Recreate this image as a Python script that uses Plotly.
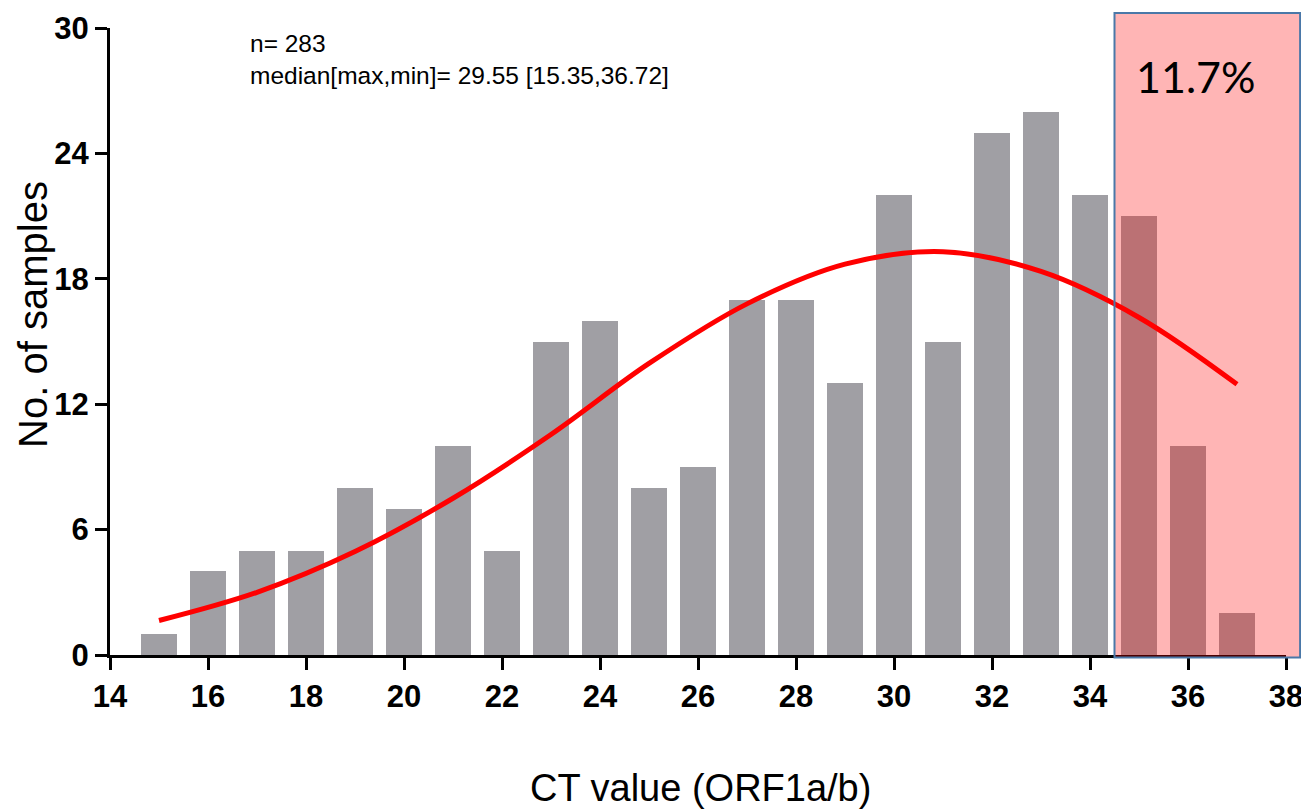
import plotly.graph_objects as go

ct_bins = [15, 16, 17, 18, 19, 20, 21, 22, 23, 24, 25, 26, 27, 28, 29, 30, 31, 32, 33, 34, 35, 36, 37]
counts = [1, 4, 5, 5, 8, 7, 10, 5, 15, 16, 8, 9, 17, 17, 13, 22, 15, 25, 26, 22, 21, 10, 2]

fit_x = [15, 17, 19, 21, 23, 25, 27, 29, 31, 33, 35, 37]
fit_y = [1.65, 3.0, 4.95, 7.5, 10.55, 13.95, 16.8, 18.7, 19.3, 18.35, 16.15, 12.95]

x_ticks = [14, 16, 18, 20, 22, 24, 26, 28, 30, 32, 34, 36, 38]
y_ticks = [0, 6, 12, 18, 24, 30]

fig = go.Figure()
fig.add_trace(go.Bar(x=ct_bins, y=counts, width=0.73, marker=dict(color="#a09fa4", line=dict(width=0)),
                     showlegend=False))
fig.add_trace(go.Scatter(x=fit_x, y=fit_y, mode="lines",
                         line=dict(color="#ff0000", width=5, shape="spline", smoothing=1.0),
                         showlegend=False))

x_lo, x_hi = 14, 38
fig.add_shape(type="rect", xref="paper", yref="paper",
              x0=(34.5 - x_lo) / (x_hi - x_lo), x1=1.012, y0=-0.004, y1=1.024,
              fillcolor="rgba(255,0,0,0.29)", line=dict(color="#4a78a8", width=2), layer="above")

fig.add_annotation(xref="paper", yref="paper", x=(34.9 - x_lo) / (x_hi - x_lo), y=0.922,
                   text="11.7%", showarrow=False, xanchor="left", yanchor="middle",
                   font=dict(family="Lato", size=43, color="#000000"))

fig.add_annotation(xref="paper", yref="paper", x=0.117, y=1.0, xanchor="left", yanchor="top",
                   text="n= 283<br>median[max,min]= 29.55 [15.35,36.72]", align="left", showarrow=False,
                   font=dict(family="Liberation Sans, Arial", size=24.5, color="#000000"))

fig.add_annotation(xref="paper", yref="paper", x=0.502, y=-0.212, xanchor="center", yanchor="middle",
                   text="CT value (ORF1a/b)", showarrow=False,
                   font=dict(family="Liberation Sans, Arial", size=38, color="#000000"))
fig.add_annotation(xref="paper", yref="paper", x=-0.0655, y=0.544, xanchor="center", yanchor="middle",
                   text="No. of samples", showarrow=False, textangle=-90,
                   font=dict(family="Liberation Sans, Arial", size=40, color="#000000"))

fig.update_layout(
    width=1301, height=810,
    margin=dict(l=102, r=23, t=20, b=163, autoexpand=False),
    plot_bgcolor="white", paper_bgcolor="white",
    bargap=0,
)
axis_font = dict(family="Liberation Sans, Arial", size=31, color="black", weight="bold")
fig.update_xaxes(range=[x_lo, x_hi], tickvals=x_ticks, ticktext=[str(v) for v in x_ticks],
                 showgrid=False, zeroline=False, showline=True, linecolor="black", linewidth=3,
                 ticks="outside", ticklen=12, tickwidth=3, tickcolor="black", tickfont=axis_font,
                 automargin=False)
fig.update_yaxes(range=[0, 30], tickvals=y_ticks, ticktext=[str(v) for v in y_ticks],
                 showgrid=False, zeroline=False, showline=True, linecolor="black", linewidth=3,
                 ticks="outside", ticklen=12, tickwidth=3, tickcolor="black", tickfont=axis_font,
                 automargin=False)

fig.write_html("out.html")
